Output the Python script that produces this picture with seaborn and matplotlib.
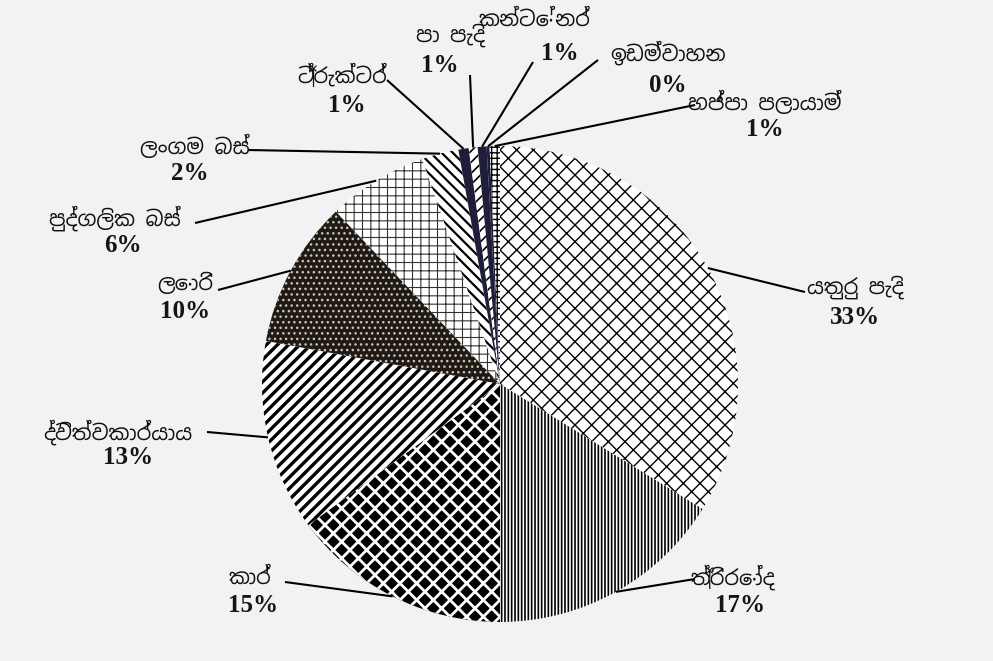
import matplotlib.pyplot as plt
import matplotlib.font_manager as fm
import seaborn as sns
import numpy as np

# vehicle classes, clockwise from 12 o'clock
vehicles = ["යතුරු පැදි", "ත්‍රිරෝද", "කාර්", "ද්විත්වකාර්යාය", "ලොරි",
            "පුද්ගලික බස්", "ලංගම බස්", "ට්‍රැක්ටර්", "පා පැදි",
            "කන්ටේනර්", "ඉඩම්වාහන", "හජ්පා පලායාම්"]
# shares (percent)
shares = [33.8, 16.2, 14.9, 13.0, 10.0, 6.8, 2.5, 0.7, 0.6, 0.6, 0.2, 0.7]
# percentages as printed on the chart
pct_labels = ["33%", "17%", "15%", "13%", "10%", "6%", "2%", "1%", "1%", "1%", "0%", "1%"]

sns.set_theme(style="white")

# Sinhala glyphs need a Sinhala font if one is around
sinhala = [f.name for f in fm.fontManager.ttflist if "Sinhala" in f.name or "Iskoola" in f.name]
name_family = sinhala[:1] + ["Noto Sans", "DejaVu Sans"]
plt.rcParams["font.family"] = name_family

W, H = 993, 661
BG = "#f2f2f5"
cx, cy, r = 500, 384, 238  # pie centre / radius in pixels (y down)

# facecolor, hatch colour, hatch, hatch linewidth
styles = [
    ("white", "black", "xx", 1.0),
    ("white", "black", "|||||", 1.2),
    ("black", "white", "xx", 2.0),
    ("white", "black", "///", 2.4),
    ("#1f1a15", "#cfc5b2", "...", 1.0),
    ("white", "#333333", "++", 0.8),
    ("white", "black", "\\\\\\", 1.6),
    ("#1e1d3a", "#1e1d3a", None, 0.0),
    ("white", "black", "///", 1.2),
    ("#1e1d3a", "#1e1d3a", None, 0.0),
    ("#1e1d3a", "#1e1d3a", None, 0.0),
    ("white", "black", "+++", 1.0),
]

# label layout in pixels (y down): name centre, percent centre, leader end
layout = [
    ((855, 287), (855, 318), (805, 292)),
    ((733, 577), (740, 605), (695, 579)),
    ((250, 578), (253, 606), (285, 582)),
    ((118, 432), (128, 457), (207, 432)),
    ((185, 284), (185, 312), (218, 290)),
    ((115, 218), (123, 246), (195, 223)),
    ((195, 147), (190, 173), (248, 150)),
    ((342, 76), (347, 105), (387, 80)),
    ((450, 35), (440, 66), (470, 75)),
    ((535, 20), (560, 53), (533, 62)),
    ((668, 53), (668, 85), (598, 60)),
    ((765, 103), (765, 130), (695, 105)),
]

fig = plt.figure(figsize=(9.93, 6.61), dpi=100, facecolor=BG)
ax = fig.add_axes([0, 0, 1, 1])
ax.set_facecolor(BG)

wedges, _ = ax.pie(shares, center=(cx, H - cy), radius=r, startangle=90,
                   counterclock=False, wedgeprops=dict(linewidth=0))

for w, (fc, hc, hatch, hlw) in zip(wedges, styles):
    w.set_facecolor(fc)
    w.set_edgecolor(hc)
    w.set_linewidth(0)
    if hatch:
        w.set_hatch(hatch)
        if hasattr(w, "set_hatch_linewidth"):
            w.set_hatch_linewidth(hlw)

ax.set_xlim(0, W)
ax.set_ylim(0, H)
ax.set_aspect("equal")
ax.axis("off")

for w, name, pct, (npos, ppos, lend) in zip(wedges, vehicles, pct_labels, layout):
    ang = np.deg2rad((w.theta1 + w.theta2) / 2)
    x0 = w.center[0] + w.r * np.cos(ang)
    y0 = w.center[1] + w.r * np.sin(ang)
    ax.plot([x0, lend[0]], [y0, H - lend[1]], color="black", lw=1.5, solid_capstyle="butt")
    ax.text(npos[0], H - npos[1], name, ha="center", va="center",
            fontsize=15, fontweight="bold", family=name_family, color="#111111")
    ax.text(ppos[0], H - ppos[1], pct, ha="center", va="center", fontsize=18,
            fontweight="bold", family=["Liberation Serif", "DejaVu Serif"], color="#151515")

fig.savefig("out.png", dpi=100, facecolor=BG)
